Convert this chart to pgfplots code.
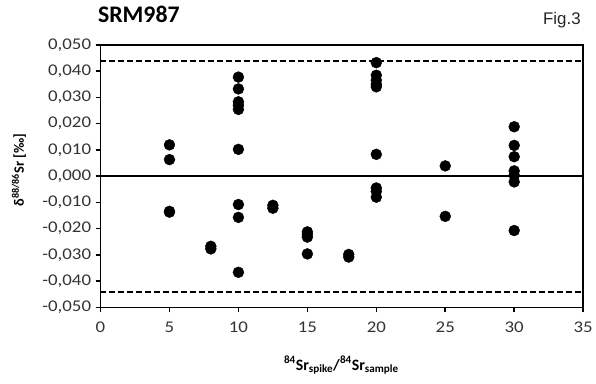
\documentclass[border=0pt]{standalone}
\usepackage{fontspec}
\setmainfont{Carlito}
\newfontfamily\arialfont{Liberation Sans}
\newfontfamily\tickfont[FakeStretch=1.15]{Carlito}
\usepackage{pgfplots}
\pgfplotsset{compat=1.18}
\begin{document}
\begin{tikzpicture}
\begin{axis}[name=ax,
  scale only axis, width=485bp, height=264bp,
  xmin=0, xmax=35, ymin=-0.05, ymax=0.05,
  scaled y ticks=false, scaled x ticks=false,
  axis line style={line width=1.9bp},
  xtick={0,5,...,35},
  xticklabels={0,5,10,15,20,25,30,35},
  ytick={-0.05,-0.04,-0.03,-0.02,-0.01,0,0.01,0.02,0.03,0.04,0.05},
  yticklabels={{-0,050},{-0,040},{-0,030},{-0,020},{-0,010},{0,000},{0,010},{0,020},{0,030},{0,040},{0,050}},
  tick align=outside, major tick length=5bp,
  tick style={line width=1.6bp, black},
  xtick pos=bottom, ytick pos=left,
  tick label style={font=\tickfont\fontsize{16.5}{17}\selectfont, text=black!80},
  xticklabel style={yshift=-6bp},
  yticklabel style={xshift=-1bp},
  clip=false,
]
\addplot[black, line width=1.8bp, dash pattern=on 6bp off 3bp, forget plot] coordinates {(0,0.0438) (35,0.0438)};
\addplot[black, line width=1.8bp, dash pattern=on 6bp off 3bp, forget plot] coordinates {(0,-0.0442) (35,-0.0442)};
\addplot[black, line width=1.9bp, forget plot] coordinates {(0,0) (35,0)};
\addplot[only marks, mark=*, mark size=5.5bp, black] coordinates {
(5,0.0119) (5,0.0063) (5,-0.0134) (5,-0.0137)
(8,-0.0267) (8,-0.0277)
(10,0.0377) (10,0.0332) (10,0.0283) (10,0.0270) (10,0.0254) (10,0.0102) (10,-0.0108) (10,-0.0157) (10,-0.0366)
(12.5,-0.0111) (12.5,-0.0122)
(15,-0.0212) (15,-0.0222) (15,-0.0232) (15,-0.0296)
(18,-0.0298) (18,-0.0308)
(20,0.0432) (20,0.0384) (20,0.0365) (20,0.0350) (20,0.0340) (20,0.0083) (20,-0.0045) (20,-0.0058) (20,-0.0080)
(25,0.0039) (25,-0.0153)
(30,0.0188) (30,0.0117) (30,0.0074) (30,0.0020) (30,0.0003) (30,-0.0022) (30,-0.0207)
};
\end{axis}
\node[anchor=base west, font=\fontsize{24}{26}\selectfont\bfseries] at ([shift={(-6bp,286bp)}]ax.south west) {SRM987};
\node[anchor=base east, font=\arialfont\fontsize{17}{19}\selectfont, text=black!85] at ([shift={(486bp,284bp)}]ax.south west) {Fig.3};
\node[rotate=90, font=\fontsize{14.5}{16}\selectfont\bfseries] at ([shift={(-82bp,138bp)}]ax.south west) {δ\textsuperscript{88/86}Sr [‰]};
\node[font=\fontsize{16}{18}\selectfont\bfseries] at ([shift={(242bp,-58bp)}]ax.south west) {\textsuperscript{84}Sr\textsubscript{spike}/\textsuperscript{84}Sr\textsubscript{sample}};
\path ([shift={(-101bp,-76bp)}]ax.south west) rectangle ([shift={(495bp,309bp)}]ax.south west);
\end{tikzpicture}
\end{document}
